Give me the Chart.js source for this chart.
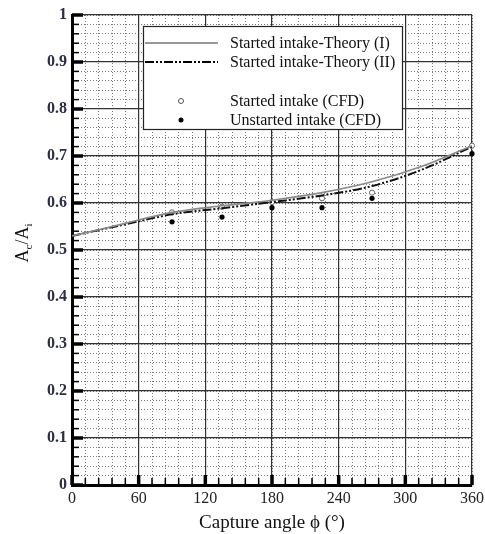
<!DOCTYPE html>
<html><head><meta charset="utf-8">
<script src="https://cdn.jsdelivr.net/npm/chart.js@4"></script>
<style>html,body{margin:0;padding:0;background:#fff}</style>
</head><body>
<canvas id="c" width="485" height="534" style="width:485px;height:534px;display:block"></canvas>
<script>
// ---- data ----
const angles       = [0, 45, 90, 135, 180, 225, 270, 315, 360];
const theoryI      = [0.530, 0.555, 0.580, 0.594, 0.606, 0.622, 0.645, 0.678, 0.722];
const theoryII     = [0.530, 0.553, 0.576, 0.589, 0.602, 0.616, 0.636, 0.671, 0.720];
const cfdAngles    = [90, 135, 180, 225, 270, 360];
const startedCFD   = [0.580, 0.592, 0.602, 0.610, 0.622, 0.722];
const unstartedCFD = [0.560, 0.570, 0.590, 0.590, 0.610, 0.705];
const xTickLabels  = ['0', '60', '120', '180', '240', '300', '360'];
const yTickLabels  = ['0', '0.1', '0.2', '0.3', '0.4', '0.5', '0.6', '0.7', '0.8', '0.9', '1'];
const seriesNames  = ['Started intake-Theory (I)', 'Started intake-Theory (II)', 'Started intake (CFD)', 'Unstarted intake (CFD)'];
const xTitle = 'Capture angle \u03D5 (\u00B0)';

const SERIF = '"Liberation Serif", "DejaVu Serif", serif';
const pts = (xs, ys) => xs.map((x, i) => ({x, y: ys[i]}));
const DASH2 = [9, 2, 2, 2, 2, 2];

const yTitlePlugin = {
  id: 'yTitle',
  afterDraw(chart) {
    const ctx = chart.ctx;
    ctx.save();
    ctx.translate(28, 243);
    ctx.rotate(-Math.PI / 2);
    ctx.fillStyle = '#111';
    ctx.textBaseline = 'alphabetic';
    const big = '18px ' + SERIF, small = '11px ' + SERIF;
    const parts = [['A', big, 0], ['c', small, 4], ['/A', big, 0], ['i', small, 4]];
    let total = 0;
    parts.forEach(p => { ctx.font = p[1]; total += ctx.measureText(p[0]).width; });
    let x = -total / 2;
    parts.forEach(p => { ctx.font = p[1]; ctx.fillText(p[0], x, p[2]); x += ctx.measureText(p[0]).width; });
    ctx.restore();
  }
};

const innerTicksPlugin = {
  id: 'innerTicks',
  afterDatasetsDraw(chart) {
    const ctx = chart.ctx, xs = chart.scales.x, ys = chart.scales.y, a = chart.chartArea;
    ctx.save();
    ctx.strokeStyle = '#000';
    for (let v = 0; v <= 360; v += 12) {
      const major = v % 60 === 0;
      const px = xs.getPixelForValue(v);
      ctx.lineWidth = major ? 3.5 : 1.5;
      ctx.beginPath(); ctx.moveTo(px, a.bottom); ctx.lineTo(px, a.bottom - (major ? 10 : 7)); ctx.stroke();
    }
    for (let i = 0; i <= 50; i++) {
      const v = i / 50, major = i % 5 === 0;
      const py = ys.getPixelForValue(v);
      ctx.lineWidth = major ? 3.5 : 1.5;
      ctx.beginPath(); ctx.moveTo(a.left, py); ctx.lineTo(a.left + (major ? 11 : 7), py); ctx.stroke();
    }
    ctx.restore();
  }
};

const legendPlugin = {
  id: 'boxLegend',
  afterDraw(chart) {
    const ctx = chart.ctx;
    const L = 143, T = 26, R = 402, B = 129;
    ctx.save();
    ctx.fillStyle = '#fff';
    ctx.fillRect(L, T, R - L, B - T);
    ctx.strokeStyle = '#222'; ctx.lineWidth = 1.2;
    ctx.strokeRect(L + 0.5, T + 0.5, R - L, B - T);
    const rows = [43, 62, 101, 120];
    ctx.font = '16px ' + SERIF; ctx.fillStyle = '#111'; ctx.textBaseline = 'middle';
    seriesNames.forEach((n, i) => ctx.fillText(n, 230, rows[i] + 1));
    ctx.strokeStyle = '#333'; ctx.lineWidth = 1.2; ctx.setLineDash([]);
    ctx.beginPath(); ctx.moveTo(145, rows[0]); ctx.lineTo(218, rows[0]); ctx.stroke();
    ctx.strokeStyle = '#000'; ctx.lineWidth = 2.2; ctx.setLineDash(DASH2);
    ctx.beginPath(); ctx.moveTo(145, rows[1]); ctx.lineTo(218, rows[1]); ctx.stroke();
    ctx.setLineDash([]);
    ctx.lineWidth = 1; ctx.strokeStyle = '#555'; ctx.fillStyle = '#fff';
    ctx.beginPath(); ctx.arc(181, rows[2], 2.5, 0, Math.PI * 2); ctx.fill(); ctx.stroke();
    ctx.fillStyle = '#000';
    ctx.beginPath(); ctx.arc(181, rows[3], 2.5, 0, Math.PI * 2); ctx.fill();
    ctx.restore();
  }
};

new Chart(document.getElementById('c'), {
  type: 'line',
  data: {
    datasets: [
      { label: seriesNames[0], data: pts(angles, theoryI), borderColor: '#8a8a8a', borderWidth: 1.6,
        pointRadius: 0, cubicInterpolationMode: 'monotone', fill: false },
      { label: seriesNames[1], data: pts(angles, theoryII), borderColor: '#111', borderWidth: 2,
        borderDash: DASH2, pointRadius: 0, cubicInterpolationMode: 'monotone', fill: false },
      { label: seriesNames[2], data: pts(cfdAngles, startedCFD), showLine: false, pointRadius: 2.6,
        pointBorderWidth: 1, pointBorderColor: '#666', pointBackgroundColor: '#fff', clip: 6 },
      { label: seriesNames[3], data: pts(cfdAngles, unstartedCFD), showLine: false, pointRadius: 2.6,
        pointBorderWidth: 0, pointBackgroundColor: '#000', pointBorderColor: '#000', clip: 6 }
    ]
  },
  options: {
    responsive: false, animation: false, devicePixelRatio: 1,
    layout: { padding: { left: 0, right: 13, top: 15, bottom: 0 } },
    plugins: { legend: { display: false }, tooltip: { enabled: false } },
    scales: {
      xm: { type: 'linear', position: 'bottom', min: 0, max: 360,
        ticks: { display: false, stepSize: 12 },
        grid: { color: '#6a6a6a', lineWidth: 0.9, drawTicks: false },
        border: { display: false, dash: [1, 2] },
        afterFit(s) { s.height = 0; s.paddingLeft = 0; s.paddingRight = 0; } },
      ym: { type: 'linear', position: 'left', min: 0, max: 1,
        ticks: { display: false, stepSize: 0.02 },
        grid: { color: '#6a6a6a', lineWidth: 0.9, drawTicks: false },
        border: { display: false, dash: [1, 2] },
        afterFit(s) { s.width = 0; s.paddingTop = 0; s.paddingBottom = 0; } },
      x: { type: 'linear', position: 'bottom', min: 0, max: 360,
        ticks: { stepSize: 60, autoSkip: false, maxRotation: 0, padding: 4, color: '#222',
          font: { family: SERIF, size: 16 },
          callback: (v) => xTickLabels[Math.round(v / 60)] },
        grid: { color: '#333', lineWidth: 1.2, drawTicks: false },
        border: { color: '#000', width: 3 },
        title: { display: true, text: xTitle, color: '#111', font: { family: SERIF, size: 19 }, padding: { top: 4, bottom: 0 } },
        afterFit(s) { s.height = 49; s.paddingLeft = 0; s.paddingRight = 0; } },
      y: { type: 'linear', position: 'left', min: 0, max: 1,
        ticks: { stepSize: 0.1, autoSkip: false, padding: 5, color: '#2a2f45',
          font: { family: SERIF, size: 16, weight: 'bold' },
          callback: (v) => yTickLabels[Math.round(v * 10)] },
        grid: { color: '#333', lineWidth: 1.2, drawTicks: false },
        border: { color: '#000', width: 3 },
        afterFit(s) { s.width = 72; s.paddingTop = 0; s.paddingBottom = 0; } }
    }
  },
  plugins: [innerTicksPlugin, legendPlugin, yTitlePlugin]
});
</script>
</body></html>
